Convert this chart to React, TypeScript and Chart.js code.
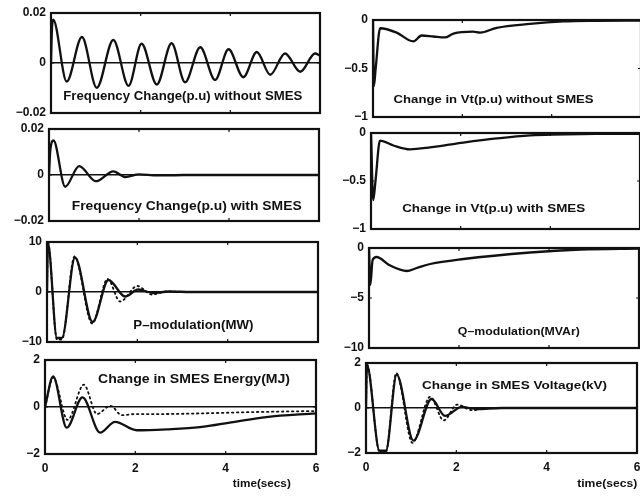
import React, { useEffect, useRef } from "react";
import { Chart, registerables } from "chart.js";

Chart.register(...registerables);

// ---------- data (time in seconds) ----------
const timeTicks = [0, 2, 4, 6];

const freqNoSmesTime = [0, 0.02, 0.05, 0.35, 0.69, 1.02, 1.39, 1.73, 2.02, 2.36, 2.69, 2.99, 3.33, 3.66, 3.96, 4.29, 4.59, 4.89, 5.22, 5.56, 5.89, 6.0];
const freqNoSmesValue = [0, 0.013, 0.0173, -0.0074, 0.0104, -0.0099, 0.0092, -0.0091, 0.0077, -0.0086, 0.0079, -0.0077, 0.0063, -0.0068, 0.0055, -0.0057, 0.0044, -0.0047, 0.0038, -0.0035, 0.0038, 0.003];

const freqSmesTime = [0, 0.03, 0.1, 0.36, 0.67, 1.04, 1.43, 1.7, 2.0, 2.4, 3.0, 6.0];
const freqSmesValue = [0, 0.011, 0.015, -0.0051, 0.0039, -0.0027, 0.0016, -0.0009, 0.0003, -0.0002, 0, 0];

const pModTime = [0, 0.02, 0.22, 0.33, 0.62, 1.01, 1.36, 1.73, 2.02, 2.35, 2.7, 3.2, 6];
const pModValue = [0, 9.8, -9.2, -9.2, 6.9, -6.0, 2.4, -0.9, 0.5, -0.2, 0.1, 0, 0];
const pModAltTime = [0, 0.02, 0.22, 0.33, 0.61, 1.0, 1.34, 1.62, 2.0, 2.32, 2.65, 3.0, 6];
const pModAltValue = [0, 9.9, -9.5, -9.5, 7.1, -6.3, 2.6, -1.9, 1.2, -0.5, 0.1, 0, 0];

const energyTime = [0, 0.18, 0.48, 0.83, 1.22, 1.55, 2.03, 2.69, 3.43, 4.17, 4.9, 6];
const energyValue = [0, 1.3, -0.88, 0.41, -1.09, -0.63, -0.99, -0.95, -0.86, -0.64, -0.43, -0.27];
const energyAltTime = [0, 0.18, 0.5, 0.86, 1.15, 1.45, 1.7, 2.0, 2.5, 3.5, 4.5, 6];
const energyAltValue = [0, 1.25, -0.55, 0.95, -0.3, 0.05, -0.35, -0.3, -0.3, -0.27, -0.22, -0.17];

const vtNoSmesTime = [0, 0.02, 0.06, 0.16, 0.53, 0.9, 1.09, 1.35, 1.61, 1.8, 2.24, 2.4, 2.77, 3.51, 4.26, 5.0, 6];
const vtNoSmesValue = [0, -0.68, -0.5, -0.085, -0.13, -0.22, -0.16, -0.17, -0.18, -0.14, -0.12, -0.13, -0.08, -0.04, -0.015, -0.008, -0.005];

const vtSmesTime = [0, 0.05, 0.1, 0.2, 0.5, 0.87, 1.32, 2.06, 2.8, 3.55, 5.0, 6];
const vtSmesValue = [0, -0.7, -0.5, -0.08, -0.13, -0.17, -0.15, -0.1, -0.057, -0.025, -0.01, -0.008];

const qModTime = [0, 0.03, 0.08, 0.17, 0.45, 0.84, 1.06, 1.36, 2.1, 3.58, 4.7, 6];
const qModValue = [0, -3.7, -1.2, -0.9, -1.7, -2.3, -2.0, -1.6, -1.1, -0.45, -0.15, -0.05];

const smesVoltTime = [0, 0.02, 0.3, 0.44, 0.68, 1.05, 1.45, 1.75, 2.12, 2.45, 3, 6];
const smesVoltValue = [0, 1.9, -1.9, -1.9, 1.48, -1.45, 0.4, -0.35, 0.05, -0.05, 0, 0];
const smesVoltAltTime = [0, 0.02, 0.3, 0.44, 0.67, 1.03, 1.42, 1.72, 2.02, 2.35, 2.7, 6];
const smesVoltAltValue = [0, 1.95, -1.95, -1.95, 1.55, -1.55, 0.5, -0.55, 0.15, -0.1, 0, 0];

const freqTicks = [-0.02, 0, 0.02];
const powerTicks = [-10, 0, 10];
const energyTicks = [-2, 0, 2];
const vtTicks = [-1, -0.5, 0];
const qTicks = [-10, -5, 0];
const voltTicks = [-2, 0, 2];

const timeTitle = "time(secs)";

// ---------- layout ----------
const FONT = '"Liberation Sans", Arial, Helvetica, sans-serif';
const INK = "#111";

type Series = { t: number[]; v: number[]; dotted?: boolean };
type Panel = {
  key: string;
  canvasLeft: number;
  box: [number, number, number, number];
  yMin: number;
  yMax: number;
  yTicks: number[];
  series: Series[];
  label: { text: string; fx: number; fy: number; width: number; size: number };
  bottomRow: boolean;
  xTitle?: { fx: number; dy: number; width: number };
};

const panels: Panel[] = [
  {
    key: "L1", canvasLeft: 0, box: [51, 320, 13, 113], yMin: -0.02, yMax: 0.02, yTicks: freqTicks,
    series: [{ t: freqNoSmesTime, v: freqNoSmesValue }],
    label: { text: "Frequency Change(p.u) without SMES", fx: 0.49, fy: 0.84, width: 239, size: 12 },
    bottomRow: false,
  },
  {
    key: "L2", canvasLeft: 0, box: [49, 319, 129, 221], yMin: -0.02, yMax: 0.02, yTicks: freqTicks,
    series: [{ t: freqSmesTime, v: freqSmesValue }],
    label: { text: "Frequency Change(p.u) with SMES", fx: 0.51, fy: 0.845, width: 230, size: 12 },
    bottomRow: false,
  },
  {
    key: "L3", canvasLeft: 0, box: [47, 318, 242, 342], yMin: -10, yMax: 10, yTicks: powerTicks,
    series: [{ t: pModTime, v: pModValue }, { t: pModAltTime, v: pModAltValue, dotted: true }],
    label: { text: "P\u2013modulation(MW)", fx: 0.54, fy: 0.84, width: 120, size: 12 },
    bottomRow: false,
  },
  {
    key: "L4", canvasLeft: 0, box: [45, 316, 360, 454], yMin: -2, yMax: 2, yTicks: energyTicks,
    series: [{ t: energyTime, v: energyValue }, { t: energyAltTime, v: energyAltValue, dotted: true }],
    label: { text: "Change in SMES Energy(MJ)", fx: 0.55, fy: 0.21, width: 192, size: 12 },
    bottomRow: true,
    xTitle: { fx: 0.8, dy: 30, width: 58 },
  },
  {
    key: "R1", canvasLeft: 325, box: [373, 641, 20, 117], yMin: -1, yMax: 0, yTicks: vtTicks,
    series: [{ t: vtNoSmesTime, v: vtNoSmesValue }],
    label: { text: "Change in Vt(p.u) without SMES", fx: 0.45, fy: 0.82, width: 200, size: 11 },
    bottomRow: false,
  },
  {
    key: "R2", canvasLeft: 325, box: [371, 640, 133, 229], yMin: -1, yMax: 0, yTicks: vtTicks,
    series: [{ t: vtSmesTime, v: vtSmesValue }],
    label: { text: "Change in Vt(p.u) with SMES", fx: 0.456, fy: 0.795, width: 183, size: 11 },
    bottomRow: false,
  },
  {
    key: "R3", canvasLeft: 325, box: [369, 639, 248, 348], yMin: -10, yMax: 0, yTicks: qTicks,
    series: [{ t: qModTime, v: qModValue }],
    label: { text: "Q\u2013modulation(MVAr)", fx: 0.555, fy: 0.84, width: 122, size: 11 },
    bottomRow: false,
  },
  {
    key: "R4", canvasLeft: 325, box: [366, 637, 363, 453], yMin: -2, yMax: 2, yTicks: voltTicks,
    series: [{ t: smesVoltTime, v: smesVoltValue }, { t: smesVoltAltTime, v: smesVoltAltValue, dotted: true }],
    label: { text: "Change in SMES Voltage(kV)", fx: 0.548, fy: 0.25, width: 185, size: 11 },
    bottomRow: true,
    xTitle: { fx: 0.89, dy: 31, width: 60 },
  },
];

function fmt(v: number): string {
  if (v === 0) return "0";
  return v < 0 ? "\u2212" + String(Math.abs(v)) : String(v);
}

function drawFitted(ctx: CanvasRenderingContext2D, text: string, x: number, y: number, width: number) {
  const w = ctx.measureText(text).width;
  const sx = width && w ? width / w : 1;
  ctx.save();
  ctx.translate(x, y);
  ctx.scale(sx, 1);
  ctx.fillText(text, 0, 0);
  ctx.restore();
}

const decoPlugin = {
  id: "deco",
  afterDraw(chart: any, _args: any, opts: any) {
    const { ctx, chartArea: a } = chart;
    const xs = chart.scales.x;
    const ys = chart.scales.y;
    ctx.save();
    ctx.strokeStyle = INK;
    ctx.lineWidth = 2.2;
    ctx.strokeRect(a.left, a.top, a.right - a.left, a.bottom - a.top);
    ctx.lineWidth = 1.2;
    ctx.beginPath();
    for (const t of timeTicks) {
      const px = xs.getPixelForValue(t);
      ctx.moveTo(px, a.top);
      ctx.lineTo(px, a.top + 3);
      ctx.moveTo(px, a.bottom);
      ctx.lineTo(px, a.bottom - 3);
    }
    for (const v of opts.yTicks || []) {
      const py = ys.getPixelForValue(v);
      ctx.moveTo(a.left, py);
      ctx.lineTo(a.left + 3, py);
      ctx.moveTo(a.right, py);
      ctx.lineTo(a.right - 3, py);
    }
    ctx.stroke();
    ctx.fillStyle = INK;
    ctx.textAlign = "center";
    ctx.textBaseline = "middle";
    ctx.font = `bold ${opts.size}px ${FONT}`;
    drawFitted(ctx, opts.text, a.left + opts.fx * (a.right - a.left), a.top + opts.fy * (a.bottom - a.top), opts.width);
    if (opts.xTitle) {
      ctx.font = `bold 11px ${FONT}`;
      drawFitted(ctx, timeTitle, a.left + opts.xTitle.fx * (a.right - a.left), a.bottom + opts.xTitle.dy, opts.xTitle.width);
    }
    ctx.restore();
  },
};

function PanelChart({ p }: { p: Panel }) {
  const ref = useRef<HTMLCanvasElement | null>(null);
  const [x0, x1, y0, y1] = p.box;
  const top = y0 - 10;
  const width = x1 + 4 - p.canvasLeft;
  const height = p.bottomRow ? 500 - top : y1 - y0 + 20;

  useEffect(() => {
    if (!ref.current) return;
    const tickFont = { family: FONT, size: 12, weight: "bold" as const };
    const chart = new Chart(ref.current, {
      type: "line",
      data: {
        datasets: p.series.map((s) => ({
          data: s.t.map((x, i) => ({ x, y: s.v[i] })),
          borderColor: INK,
          borderWidth: s.dotted ? 1.8 : 2.3,
          borderDash: s.dotted ? [1.5, 3.5] : [],
          borderCapStyle: "round" as const,
          pointRadius: 0,
          cubicInterpolationMode: "monotone" as const,
          fill: false,
        })),
      },
      options: {
        responsive: false,
        maintainAspectRatio: false,
        animation: false,
        devicePixelRatio: 1,
        layout: { padding: { top: 10, right: 4, bottom: p.bottomRow ? 0 : 10, left: 0 } },
        plugins: {
          legend: { display: false },
          tooltip: { enabled: false },
          deco: { text: p.label.text, fx: p.label.fx, fy: p.label.fy, width: p.label.width, size: p.label.size, xTitle: p.xTitle, yTicks: p.yTicks },
        } as any,
        scales: {
          x: {
            type: "linear",
            min: 0,
            max: 6,
            display: p.bottomRow,
            grid: { display: false, drawTicks: false },
            border: { display: false },
            ticks: { font: tickFont, color: INK, padding: 7, maxRotation: 0, callback: (v: any) => String(v) },
            afterBuildTicks: (s: any) => {
              s.ticks = timeTicks.map((v) => ({ value: v }));
            },
            afterFit: (s: any) => {
              s.height = p.bottomRow ? 500 - y1 : 0;
              s.paddingLeft = 0;
              s.paddingRight = 0;
            },
          },
          y: {
            type: "linear",
            min: p.yMin,
            max: p.yMax,
            grid: {
              drawTicks: false,
              lineWidth: 1.6,
              color: (c: any) => (c.tick && c.tick.value === 0 ? INK : "rgba(0,0,0,0)"),
            },
            border: { display: false },
            ticks: { font: tickFont, color: INK, padding: 5, callback: (v: any) => fmt(Number(v)) },
            afterBuildTicks: (s: any) => {
              s.ticks = p.yTicks.map((v) => ({ value: v }));
            },
            afterFit: (s: any) => {
              s.width = x0 - p.canvasLeft;
              s.paddingTop = 0;
              s.paddingBottom = 0;
            },
          },
        },
      },
      plugins: [decoPlugin as any],
    });
    return () => chart.destroy();
  }, [p]);

  return (
    <canvas
      ref={ref}
      width={width}
      height={height}
      style={{ position: "absolute", left: p.canvasLeft, top, width, height }}
    />
  );
}

export default function App() {
  return (
    <div
      style={{
        position: "fixed",
        left: 0,
        top: 0,
        width: 640,
        height: 500,
        overflow: "hidden",
        background: "#fff",
      }}
    >
      {panels.map((p) => (
        <PanelChart key={p.key} p={p} />
      ))}
    </div>
  );
}
